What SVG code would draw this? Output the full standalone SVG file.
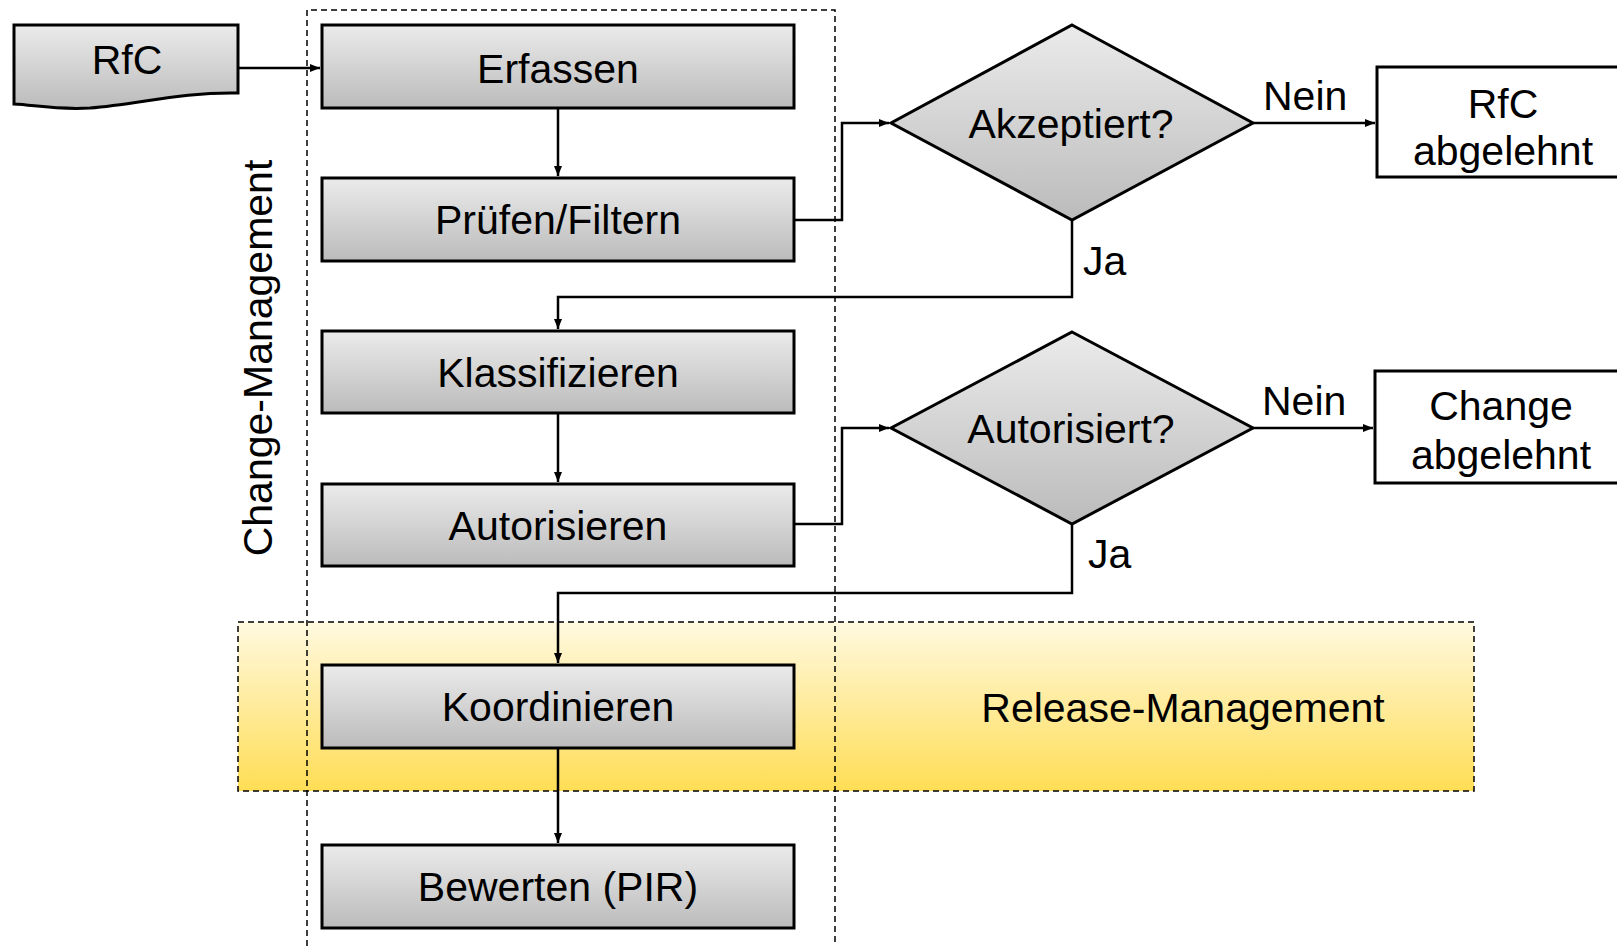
<svg xmlns="http://www.w3.org/2000/svg" width="1617" height="946" viewBox="0 0 1617 946">
  <defs>
    <linearGradient id="grey" x1="0" y1="0" x2="0" y2="1">
      <stop offset="0" stop-color="#ebebeb"/>
      <stop offset="1" stop-color="#bbbbbb"/>
    </linearGradient>
    <linearGradient id="yellow" x1="0" y1="0" x2="0" y2="1">
      <stop offset="0" stop-color="#fff9e0"/>
      <stop offset="1" stop-color="#ffdd55"/>
    </linearGradient>
    <marker id="arrow" viewBox="0 0 10 8" refX="10" refY="4" markerWidth="10" markerHeight="8" markerUnits="userSpaceOnUse" orient="auto">
      <path d="M0,0 L10,4 L0,8 z" fill="#000"/>
    </marker>
  </defs>
  <style>
    text { font-family: "Liberation Sans", Arial, sans-serif; font-size: 41px; fill: #000; }
    .c { text-anchor: middle; }
    .step { fill: url(#grey); stroke: #000; stroke-width: 3; }
    .end { fill: #fff; stroke: #000; stroke-width: 3; }
    .frame { fill: none; stroke: #000; stroke-width: 1.5; stroke-dasharray: 6 4; }
    .conn { fill: none; stroke: #000; stroke-width: 2.5; }
  </style>

  <rect width="1617" height="946" fill="#fff"/>

  <!-- Release-Management area -->
  <g id="release-management">
    <rect x="238" y="622" width="1236" height="169" fill="url(#yellow)" stroke="#000" stroke-width="1.5" stroke-dasharray="6 4"/>
    <text class="c" x="1183" y="722">Release-Management</text>
  </g>

  <!-- Change-Management frame -->
  <g id="change-management">
    <path class="frame" d="M307,946 V10 H835 V946"/>
    <text class="c" x="272" y="358" transform="rotate(-90 272 358)">Change-Management</text>
  </g>

  <g id="rfc">
    <path class="step" d="M14,25 H238 V93 C180,92 140,104 90,108 C55,110 35,105 14,104 Z"/>
    <text class="c" x="127" y="74">RfC</text>
  </g>

  <g id="erfassen">
    <rect class="step" x="322" y="25" width="472" height="83"/>
    <text class="c" x="558" y="83">Erfassen</text>
  </g>
  <g id="pruefen">
    <rect class="step" x="322" y="178" width="472" height="83"/>
    <text class="c" x="558" y="234">Prüfen/Filtern</text>
  </g>
  <g id="klassifizieren">
    <rect class="step" x="322" y="331" width="472" height="82"/>
    <text class="c" x="558" y="387">Klassifizieren</text>
  </g>
  <g id="autorisieren">
    <rect class="step" x="322" y="484" width="472" height="82"/>
    <text class="c" x="558" y="540">Autorisieren</text>
  </g>
  <g id="koordinieren">
    <rect class="step" x="322" y="665" width="472" height="83"/>
    <text class="c" x="558" y="721">Koordinieren</text>
  </g>
  <g id="bewerten">
    <rect class="step" x="322" y="845" width="472" height="83"/>
    <text class="c" x="558" y="901">Bewerten (PIR)</text>
  </g>

  <g id="akzeptiert">
    <polygon class="step" points="1072,25 1253,123 1072,220 891,123"/>
    <text class="c" x="1071" y="138">Akzeptiert?</text>
  </g>
  <g id="autorisiert">
    <polygon class="step" points="1072,332 1253,428 1072,524 891,428"/>
    <text class="c" x="1071" y="443">Autorisiert?</text>
  </g>

  <g id="rfc-abgelehnt">
    <rect class="end" x="1377" y="67" width="250" height="110"/>
    <text class="c" x="1503" y="118">RfC</text>
    <text class="c" x="1503" y="165">abgelehnt</text>
  </g>
  <g id="change-abgelehnt">
    <rect class="end" x="1375" y="371" width="252" height="112"/>
    <text class="c" x="1501" y="420">Change</text>
    <text class="c" x="1501" y="469">abgelehnt</text>
  </g>

  <!-- connectors -->
  <g id="connectors">
    <path class="conn" marker-end="url(#arrow)" d="M238,68 H320"/>
    <path class="conn" marker-end="url(#arrow)" d="M558,108 V176"/>
    <path class="conn" marker-end="url(#arrow)" d="M794,220 H842 V123 H889"/>
    <path class="conn" marker-end="url(#arrow)" d="M1253,123 H1375"/>
    <path class="conn" marker-end="url(#arrow)" d="M1072,220 V297 H558 V329"/>
    <path class="conn" marker-end="url(#arrow)" d="M558,413 V482"/>
    <path class="conn" marker-end="url(#arrow)" d="M794,524 H842 V428 H889"/>
    <path class="conn" marker-end="url(#arrow)" d="M1253,428 H1373"/>
    <path class="conn" marker-end="url(#arrow)" d="M1072,524 V593 H558 V663"/>
    <path class="conn" marker-end="url(#arrow)" d="M558,748 V843"/>
    <text x="1263" y="110">Nein</text>
    <text x="1262" y="415">Nein</text>
    <text x="1083" y="275">Ja</text>
    <text x="1088" y="568">Ja</text>
  </g>
</svg>
